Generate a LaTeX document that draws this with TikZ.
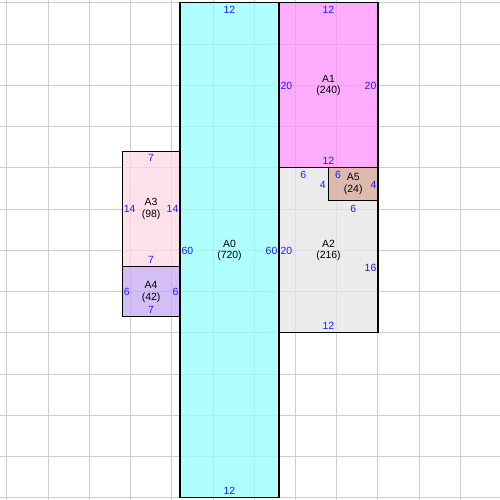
\documentclass[tikz,border=0pt]{standalone}
\usepackage{fontspec}
\setmainfont{Liberation Sans}
\usetikzlibrary{positioning,calc}
\definecolor{cA0}{RGB}{148,255,255}
\definecolor{cA1}{RGB}{255,144,255}
\definecolor{cA2}{RGB}{228,228,228}
\definecolor{cA3}{RGB}{255,215,228}
\definecolor{cA4}{RGB}{199,168,242}
\definecolor{cA5}{RGB}{218,168,155}
\definecolor{dimblue}{RGB}{30,30,255}
\definecolor{gridgray}{RGB}{205,205,205}
\begin{document}
\begin{tikzpicture}[x=0.25cm, y=-0.25cm,
  every node/.style={font=\fontsize{9}{10.3}\selectfont},
  part/.style={draw=black, line width=0.9pt, fill opacity=0.75, text opacity=1, inner sep=0pt, align=center},
  dim/.style={text=dimblue, inner sep=0pt},
  gridline/.style={draw=gridgray, line width=0.85pt}]
\useasboundingbox (-21.82,-0.36) rectangle (38.79,60.24);
\foreach \x in {-21,-16,...,34} \draw[gridline] (\x,-0.36) -- (\x,60.24);
\foreach \y in {0,5,...,60} \draw[gridline] (-21.82,\y) -- (38.79,\y);

\node[part, fill=cA0, minimum width=3cm, minimum height=15cm] (A0) at (6,30) {A0\\(720)};
\node[part, fill=cA1, minimum width=3cm, minimum height=5cm] (A1) at (18,10) {A1\\(240)};
\node[part, fill=cA2, minimum width=3cm, minimum height=5cm] (A2) at (18,30) {A2\\(216)};
\node[part, fill=cA5, minimum width=1.5cm, minimum height=1cm] (A5) at (21,22) {A5\\(24)};
\node[part, fill=cA3, minimum width=1.75cm, minimum height=3.5cm] (A3) at (-3.5,25) {A3\\(98)};
\node[part, fill=cA4, minimum width=1.75cm, minimum height=1.5cm] (A4) at (-3.5,35) {A4\\(42)};

\node[dim, below=3pt of A0.north] (A0n) {12};
\node[dim, right=1.7pt of A0.west] (A0w) {60};
\node[dim, left=1.7pt of A0.east] (A0e) {60};
\node[dim, above=3pt of A0.south] (A0s) {12};

\node[dim, below=3pt of A1.north] (A1n) {12};
\node[dim, right=1.7pt of A1.west] (A1w) {20};
\node[dim, left=1.7pt of A1.east] (A1e) {20};
\node[dim, above=3pt of A1.south] (A1s) {12};

\coordinate (A2nm) at ($(A2.north west)!.5!(A5.north west)$);
\coordinate (A2em) at ($(A5.south east)!.5!(A2.south east)$);
\node[dim, below=3pt of A2nm] (A2n) {6};
\node[dim, right=1.7pt of A2.west] (A2w) {20};
\node[dim, left=1.7pt of A2em] (A2e) {16};
\node[dim, above=3pt of A2.south] (A2s) {12};
\node[dim, left=1.7pt of A5.west] (A2i) {4};
\node[dim, below=3pt of A5.south] (A2j) {6};

\node[dim, below right=3pt and 6pt of A5.north west] (A5n) {6};
\node[dim, left=1.7pt of A5.east] (A5e) {4};

\node[dim, below=3pt of A3.north] (A3n) {7};
\node[dim, right=1.7pt of A3.west] (A3w) {14};
\node[dim, left=1.7pt of A3.east] (A3e) {14};
\node[dim, above=3pt of A3.south] (A3s) {7};

\node[dim, right=1.7pt of A4.west] (A4w) {6};
\node[dim, left=1.7pt of A4.east] (A4e) {6};
\node[dim, above=3pt of A4.south] (A4s) {7};
\end{tikzpicture}
\end{document}
